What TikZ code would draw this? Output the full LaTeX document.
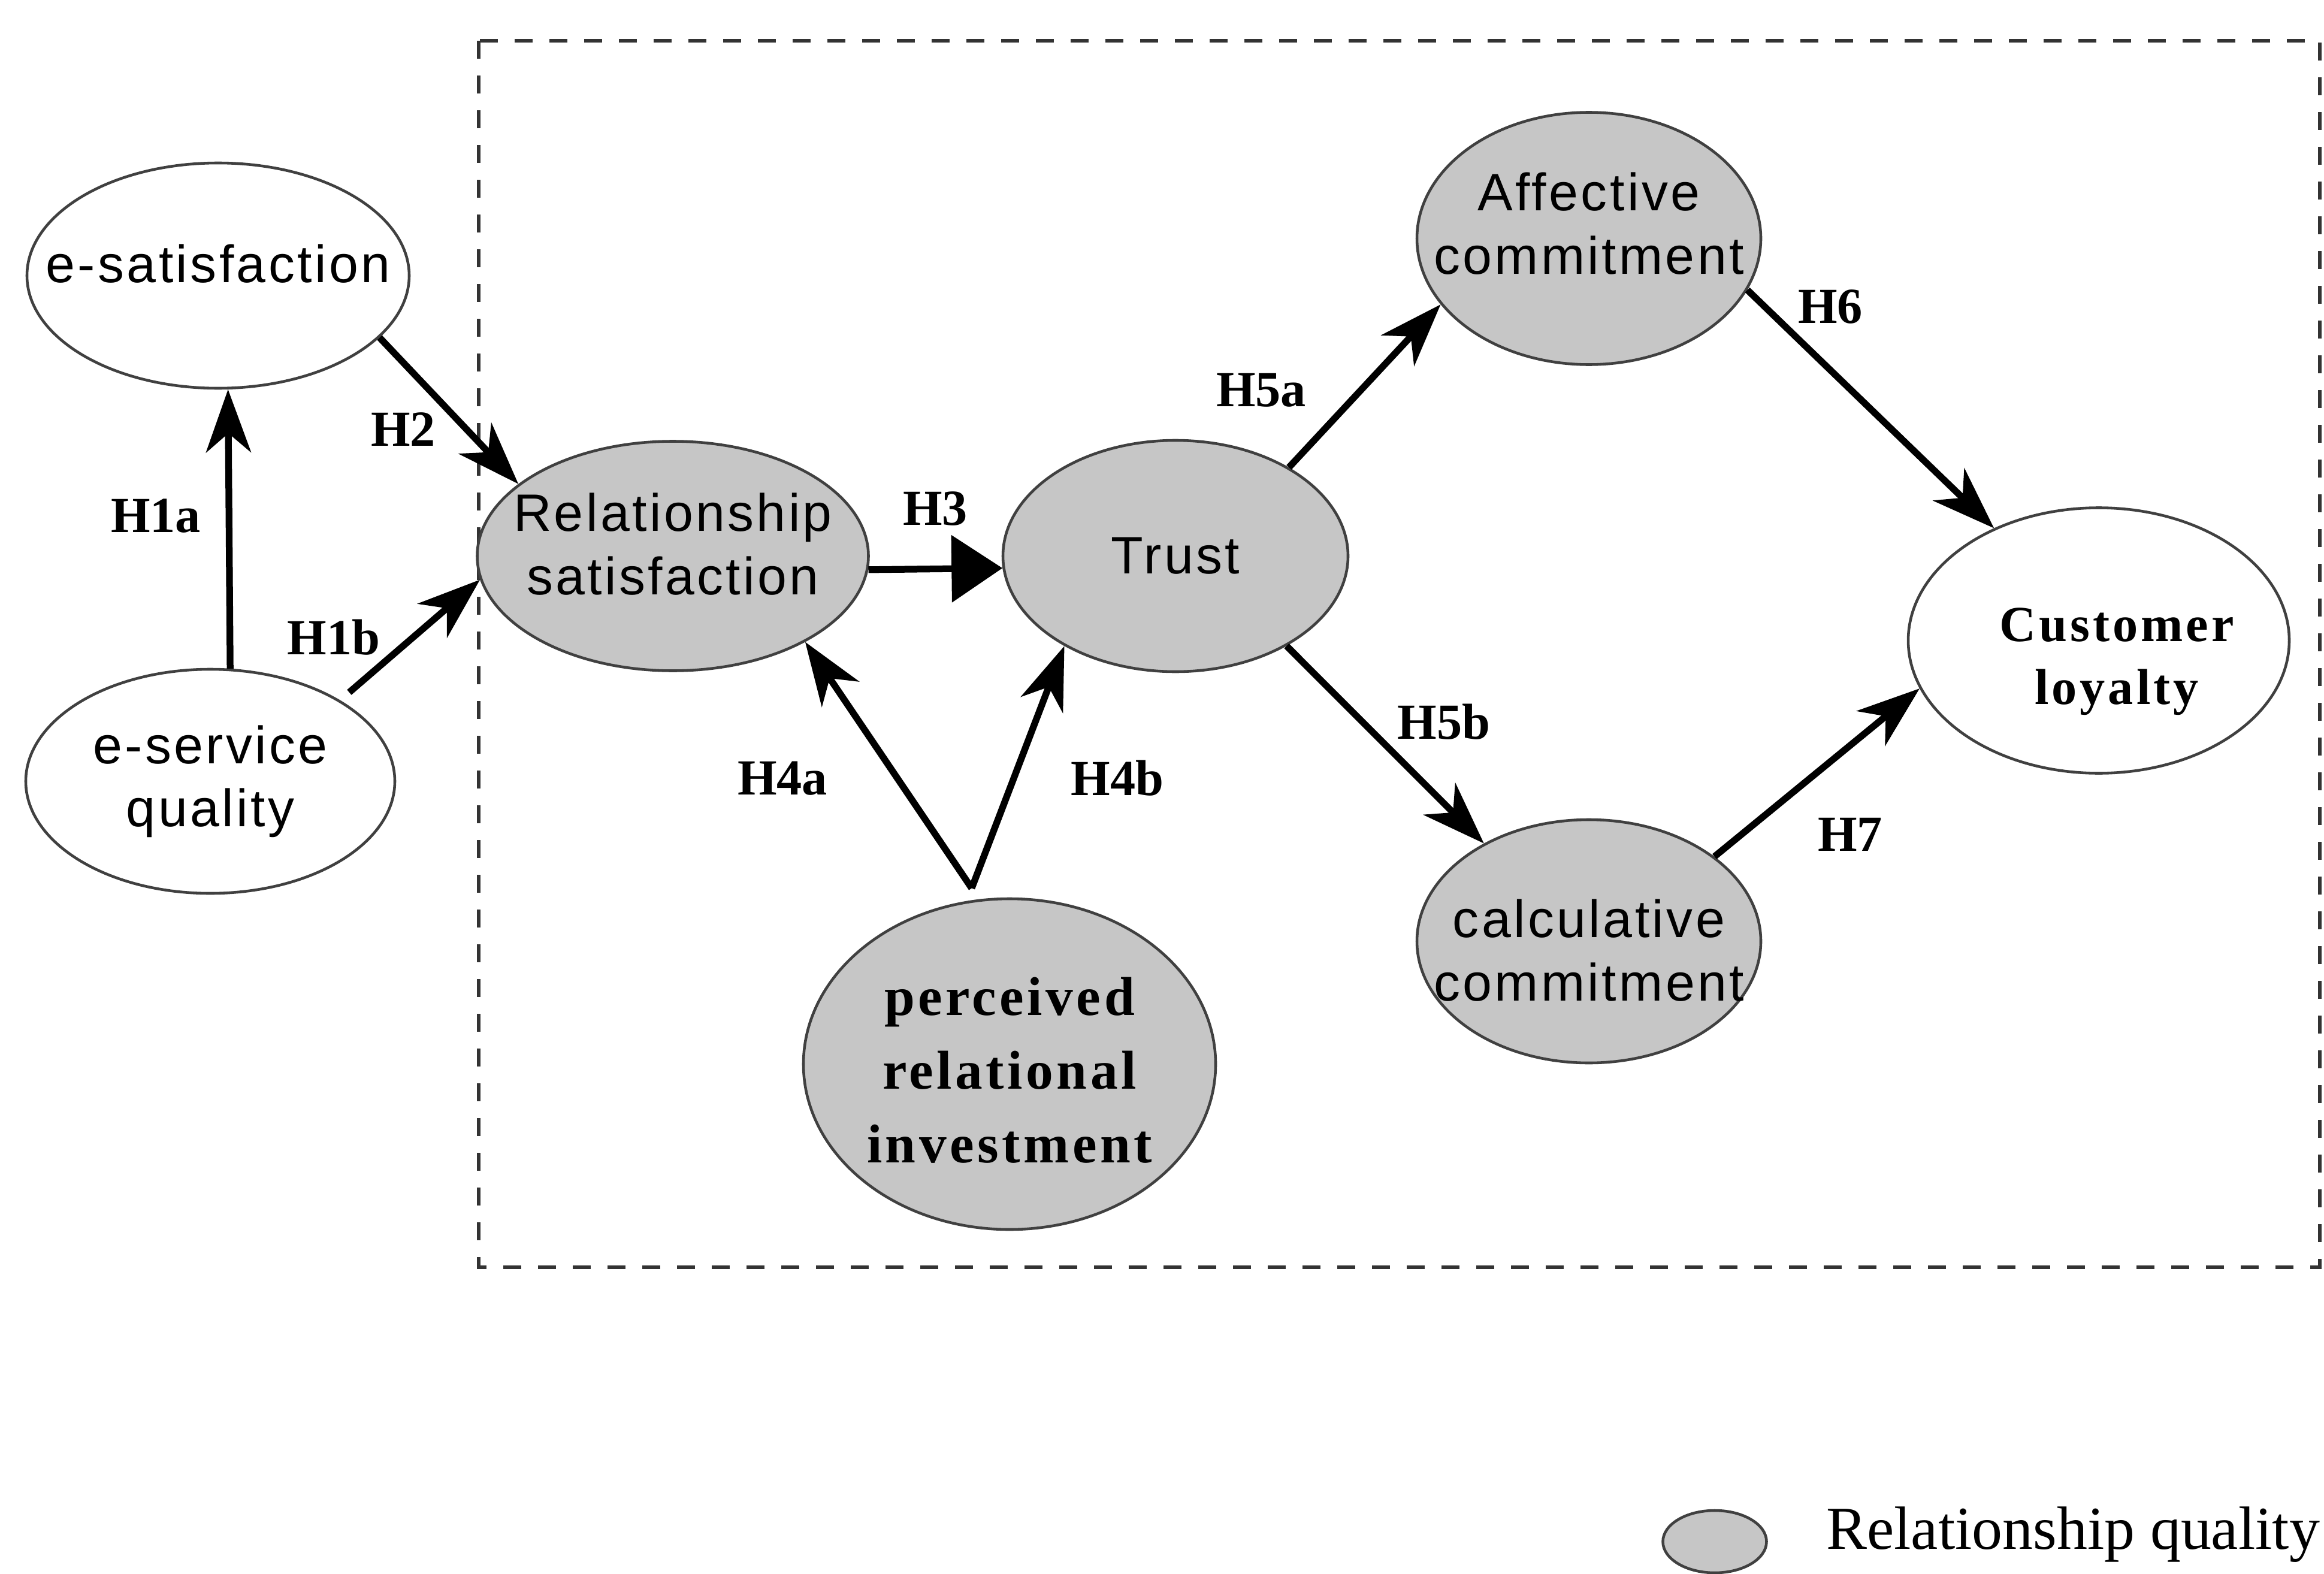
\documentclass[tikz,border=0pt]{standalone}
\usepackage{fontspec}
\setmainfont{Liberation Serif}
\newfontfamily\arialsp[LetterSpace=5]{Liberation Sans}
\newfontfamily\timessp[LetterSpace=6]{Liberation Serif}
\usetikzlibrary{shapes.geometric,arrows.meta,positioning}

\begin{document}
\begin{tikzpicture}[
  rq/.style={ellipse, draw=black!75, line width=1.3pt, fill=gray!45, inner sep=0pt},
  nrq/.style={ellipse, draw=black!75, line width=1.3pt, fill=white, inner sep=0pt},
  sans/.style={align=center, font=\arialsp\fontsize{25}{30}\selectfont},
  serifb/.style={align=center, font=\timessp\bfseries\fontsize{26}{35}\selectfont},
  hlab/.style={font=\bfseries\fontsize{24}{28}\selectfont},
  hyp/.style={line width=3.2pt, -{Stealth[length=1.05cm,width=0.75cm,inset=0.32cm]}},
]
\useasboundingbox (0,0) rectangle (38.79,-26.27);

% relationship quality block
\draw[black!80, line width=1.5pt, dash pattern=on 0.3cm off 0.28cm] (7.99,-0.68) rectangle (38.72,-21.15);

\node[nrq, minimum width=6.38cm, minimum height=3.76cm, label={[sans, yshift=0.2cm]center:e-satisfaction}] (esat) at (3.64,-4.60) {};
\node[nrq, minimum width=6.16cm, minimum height=3.74cm, label={[sans]center:e-service\\quality}] (esq) at (3.51,-13.04) {};
\node[rq, minimum width=6.53cm, minimum height=3.83cm, label={[sans, yshift=0.2cm]center:Relationship\\satisfaction}] (rsat) at (11.23,-9.28) {};
\node[rq, minimum width=5.76cm, minimum height=3.86cm, label={[sans]center:Trust}] (trust) at (19.62,-9.28) {};
\node[rq, minimum width=5.74cm, minimum height=4.21cm, label={[sans, yshift=0.25cm]center:Affective\\commitment}] (aff) at (26.52,-3.98) {};
\node[rq, minimum width=5.74cm, minimum height=4.06cm, label={[sans, yshift=-0.15cm]center:calculative\\commitment}] (calc) at (26.52,-15.71) {};
\node[rq, minimum width=6.88cm, minimum height=5.52cm, label={[serifb, yshift=-0.1cm]center:perceived\\relational\\investment}] (invest) at (16.85,-17.76) {};
\node[nrq, minimum width=6.36cm, minimum height=4.43cm, label={[align=center, font=\timessp\bfseries\fontsize{24}{30}\selectfont, xshift=0.3cm, yshift=-0.35cm]center:Customer\\loyalty}] (loyal) at (35.03,-10.69) {};

% hypotheses
\draw[hyp] (esq.80) -- (esat.-85);
\draw[hyp, shorten <=0.2cm] (esq.32) -- (rsat.187);
\draw[hyp] (esat.-21) -- (rsat.155);
\draw[line width=3.2pt, -{Triangle[length=0.85cm,width=1.1cm]}] (rsat.-4) -- (trust.184);
\coordinate (fork) at ([yshift=0.2cm]invest.103);
\draw[hyp] (fork) -- (rsat.-33);
\draw[hyp] (fork) -- (trust.219);
\draw[hyp] (trust.38) -- (aff.204);
\draw[hyp] (trust.-39) -- (calc.137);
\draw[hyp] (aff.-18) -- (loyal.133);
\draw[hyp] (calc.34) -- (loyal.195);

\node[hlab] (h1a) at (2.60,-8.61) {H1a};
\node[hlab] (h1b) at (5.57,-10.64) {H1b};
\node[hlab] (h2) at (6.73,-7.17) {H2};
\node[hlab] (h3) at (15.61,-8.49) {H3};
\node[hlab] (h4a) at (13.06,-12.99) {H4a};
\node[hlab] (h4b) at (18.65,-12.99) {H4b};
\node[hlab] (h5a) at (21.05,-6.51) {H5a};
\node[hlab] (h5b) at (24.10,-12.05) {H5b};
\node[hlab] (h6) at (30.55,-5.12) {H6};
\node[hlab] (h7) at (30.88,-13.93) {H7};

% legend
\node[rq, minimum width=1.73cm, minimum height=1.04cm] (legend) at (28.62,-25.73) {};
\node[font=\fontsize{29}{34}\selectfont, right=0.85cm of legend, yshift=0.12cm] (legtxt) {Relationship quality};
\end{tikzpicture}
\end{document}
